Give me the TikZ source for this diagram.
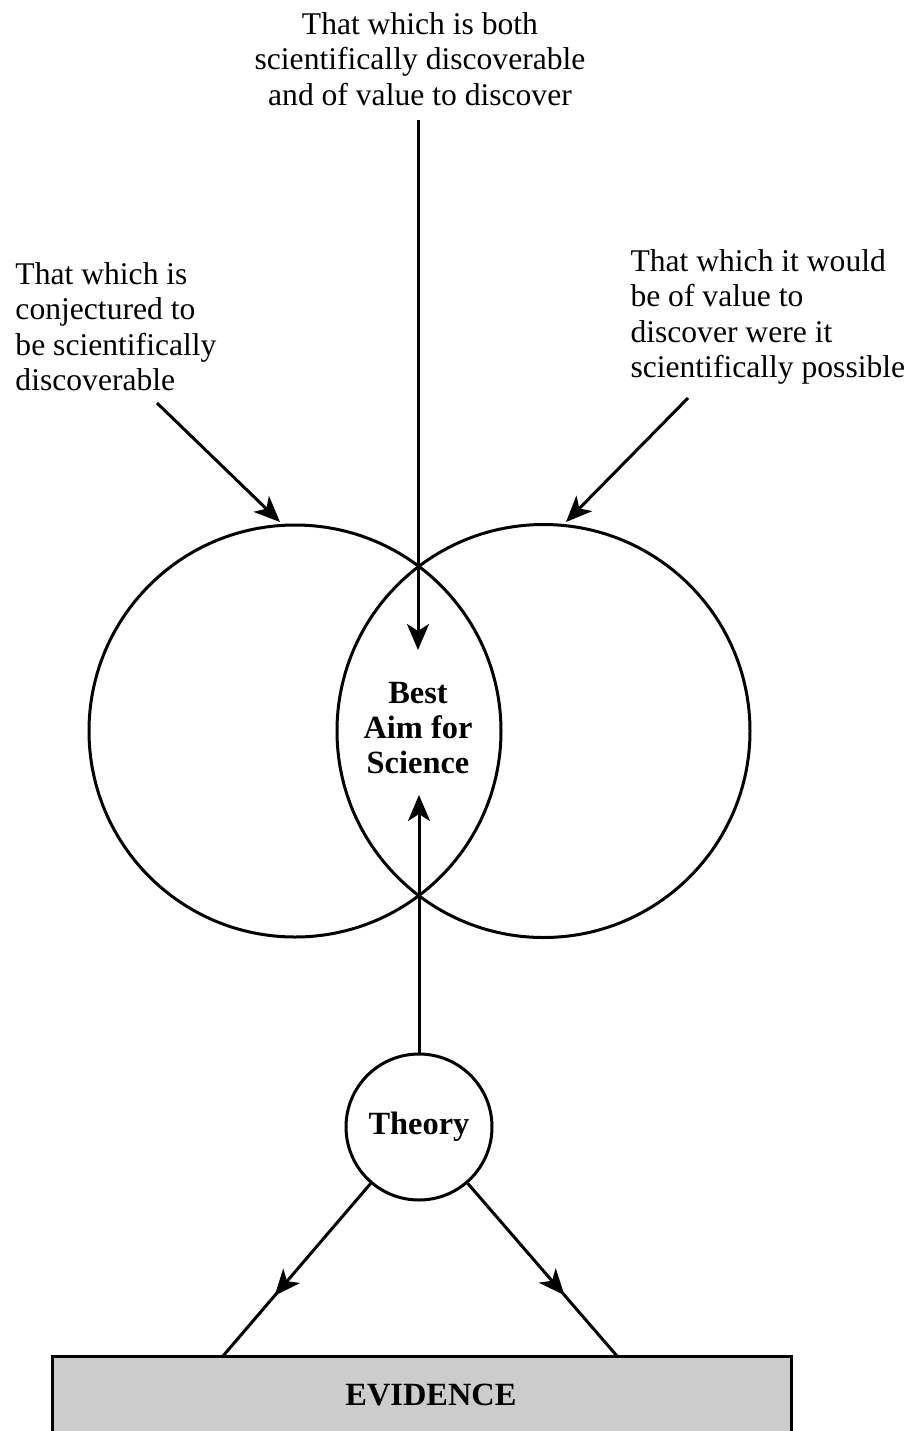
\documentclass[tikz,border=0pt]{standalone}
\usepackage{fontspec}
\setmainfont{Liberation Serif}
\usetikzlibrary{arrows.meta,decorations.markings}

\begin{document}
\begin{tikzpicture}[
  x=0.5pt, y=-0.5pt,
  line width=1.5pt,
  txt/.style={font=\fontsize{15.8pt}{17.75pt}\selectfont, inner sep=0pt},
  boldtxt/.style={inner sep=0pt, font=\fontsize{16.2pt}{17.5pt}\selectfont\bfseries},
  ring/.style={draw, circle, inner sep=0pt},
  tip/.style={-{Stealth[length=13pt,width=11pt,inset=3.5pt]}},
  midtip/.style={postaction={decorate}, decoration={markings,
      mark=at position 0.65 with {\arrow{Stealth[length=13pt,width=11pt,inset=3.5pt]}}}}
]
\useasboundingbox (0,0) rectangle (914,1431);
\clip (0,0) rectangle (914,1431);

% the two overlapping sets
\node[ring, minimum size=206pt] (discoverable) at (295,731) {};
\node[ring, minimum size=206.5pt] (valuable) at (543.5,731) {};

% labels
\node[txt, align=center, anchor=north] (both) at (420,11)
  {That which is both\\scientifically discoverable\\and of value to discover};
\node[txt, align=left, anchor=north west] (conj) at (14,261)
  {That which is\\conjectured to\\be scientifically\\discoverable};
\node[txt, align=left, anchor=north west] (worth) at (629,248)
  {That which it would\\be of value to\\discover were it\\scientifically possible};
\node[boldtxt, align=center, anchor=north] (aim) at (418,681)
  {Best\\Aim for\\Science};

% theory and evidence
\node[ring, minimum size=73pt, font=\fontsize{16.2pt}{17.5pt}\selectfont\bfseries] (theory) at (419,1127) {Theory};
\node[draw, fill=black!20, minimum width=369.5pt, minimum height=45pt, inner sep=0pt] (evidence) at (422,1401) {};
\node[boldtxt] (evtext) at (431,1395) {EVIDENCE};

% connector end points
\coordinate (dstart) at (418,120);
\coordinate (dend) at (418,650);
\coordinate (uend) at (419,795);
\coordinate (cstart) at (157,403);
\coordinate (cend) at (280,522);
\coordinate (vstart) at (688,398);
\coordinate (vend) at (566,522);
\coordinate (evl) at (223,1356);
\coordinate (evr) at (617,1356);

% connectors
\draw[tip] (dstart) -- (dend);
\draw[tip] (theory) -- (uend);
\draw[tip] (cstart) -- (cend);
\draw[tip] (vstart) -- (vend);
\draw[midtip] (theory) -- (evl);
\draw[midtip] (theory) -- (evr);
\end{tikzpicture}
\end{document}
